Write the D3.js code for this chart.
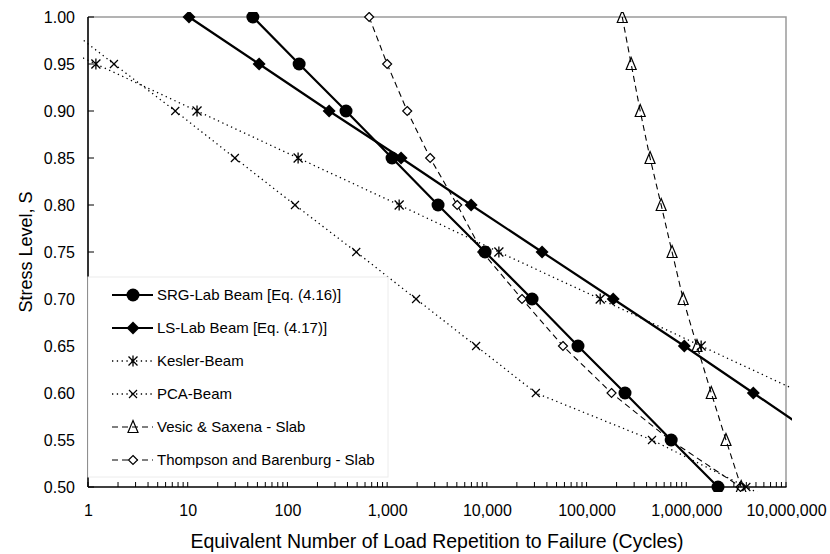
<!DOCTYPE html>
<html>
<head>
<meta charset="utf-8">
<script src="https://cdn.jsdelivr.net/npm/d3@7"></script>
<style>
  html, body { margin: 0; padding: 0; background: #fff; }
  svg { display: block; font-family: "Liberation Sans", Arial, sans-serif; }
</style>
</head>
<body>
<svg id="chart" width="830" height="554"></svg>
<script>
// ---------- Data ----------
const stressLevels = [1.00, 0.95, 0.90, 0.85, 0.80, 0.75, 0.70, 0.65, 0.60, 0.55, 0.50, 0.45];

const srgNames = "SRG-Lab Beam [Eq. (4.16)]";
const srgCycles = [45, 131, 387, 1120, 3240, 9600, 28400, 82000, 243000, 706000, 2080000];

const lsName = "LS-Lab Beam [Eq. (4.17)]";
const lsCycles = [10.3, 52, 262, 1380, 6950, 35800, 185000, 955000, 4700000, 23000000];

const keslerName = "Kesler-Beam";
const keslerCycles = [0.12, 1.2, 12.4, 128, 1320, 13200, 137000, 1410000, 14500000];

const pcaName = "PCA-Beam";
const pcaCycles = [0.45, 1.82, 7.5, 29.7, 119, 490, 1950, 7800, 31000, 453000, 4000000, 35000000];

const vesicName = "Vesic & Saxena - Slab";
const vesicCycles = [228000, 280000, 345000, 433000, 560000, 720000, 930000, 1280000, 1780000, 2500000, 3550000];

const thompsonName = "Thompson and Barenburg - Slab";
const thompsonCycles = [660, 1000, 1590, 2700, 5040, 9000, 22500, 58000, 178000, 690000, 3500000];

const xTickValues = [1, 10, 100, 1000, 10000, 100000, 1000000, 10000000];
const yTickValues = [0.50, 0.55, 0.60, 0.65, 0.70, 0.75, 0.80, 0.85, 0.90, 0.95, 1.00];

const xTitle = "Equivalent Number of Load Repetition to Failure (Cycles)";
const yTitle = "Stress Level, S";

// ---------- Layout ----------
const svg = d3.select("#chart");
const L = 88, R = 786, T = 17, B = 487;

const x = d3.scaleLog().domain([1, 1e7]).range([L, R]);
const y = d3.scaleLinear().domain([0.5, 1.0]).range([B, T]);

// marker drawers
function drawMarker(g, type, cx, cy) {
  if (type === "circle") {
    g.append("circle").attr("cx", cx).attr("cy", cy).attr("r", 6.5).attr("fill", "#000");
  } else if (type === "diamond") {
    const s = 6.5;
    g.append("path").attr("d", `M${cx},${cy - s}L${cx + s},${cy}L${cx},${cy + s}L${cx - s},${cy}Z`).attr("fill", "#000");
  } else if (type === "asterisk") {
    const s = 4.5;
    g.append("path").attr("d", `M${cx - s},${cy - s}L${cx + s},${cy + s}M${cx - s},${cy + s}L${cx + s},${cy - s}M${cx},${cy - s - 1}L${cx},${cy + s + 1}`)
      .attr("stroke", "#000").attr("stroke-width", 1.3).attr("fill", "none");
  } else if (type === "xmark") {
    const s = 4;
    g.append("path").attr("d", `M${cx - s},${cy - s}L${cx + s},${cy + s}M${cx - s},${cy + s}L${cx + s},${cy - s}`)
      .attr("stroke", "#000").attr("stroke-width", 1.2).attr("fill", "none");
  } else if (type === "triangle") {
    const h = 11, w = 10;
    g.append("path").attr("d", `M${cx},${cy - h / 2 - 1}L${cx + w / 2},${cy + h / 2}L${cx - w / 2},${cy + h / 2}Z`)
      .attr("stroke", "#000").attr("stroke-width", 1.2).attr("fill", "none");
  } else if (type === "odiamond") {
    const s = 4.5;
    g.append("path").attr("d", `M${cx},${cy - s}L${cx + s},${cy}L${cx},${cy + s}L${cx - s},${cy}Z`)
      .attr("stroke", "#000").attr("stroke-width", 1.2).attr("fill", "#fff");
  }
}

const series = [
  { name: thompsonName, cycles: thompsonCycles, marker: "odiamond", width: 1.1, dash: "6,4" },
  { name: vesicName, cycles: vesicCycles, marker: "triangle", width: 1.1, dash: "6,4" },
  { name: pcaName, cycles: pcaCycles, marker: "xmark", width: 1.3, dash: "1.3,3.5" },
  { name: keslerName, cycles: keslerCycles, marker: "asterisk", width: 1.3, dash: "1.3,3.5" },
  { name: lsName, cycles: lsCycles, marker: "diamond", width: 2.2, dash: null },
  { name: srgNames, cycles: srgCycles, marker: "circle", width: 2.2, dash: null }
];

// ---------- Frame ----------
svg.append("defs").append("clipPath").attr("id", "clip")
  .append("rect").attr("x", L - 5).attr("y", T - 5).attr("width", R - L + 11).attr("height", B - T + 10);

svg.append("path").attr("d", `M${L},${T}H${R}V${B}`).attr("stroke", "#9a9a9a").attr("stroke-width", 1.5).attr("fill", "none");

// ---------- Data lines ----------
const plot = svg.append("g").attr("clip-path", "url(#clip)");
const line = d3.line().x(d => x(d[0])).y(d => y(d[1]));

series.forEach(s => {
  const pts = s.cycles.map((c, i) => [c, stressLevels[i]]);
  const p = plot.append("path").attr("d", line(pts))
    .attr("fill", "none").attr("stroke", "#000").attr("stroke-width", s.width);
  if (s.dash) p.attr("stroke-dasharray", s.dash);
  const mg = plot.append("g");
  pts.forEach(d => {
    const cx = x(d[0]), cy = y(d[1]);
    if (cx >= L - 1 && cx <= R + 1 && cy <= B + 1) drawMarker(mg, s.marker, cx, cy);
  });
});

// ---------- Axes ----------
const xAxis = d3.axisBottom(x).tickValues(xTickValues).tickSize(0)
  .tickFormat(d3.format(","));
const xg = svg.append("g").attr("transform", `translate(0,${B})`).call(xAxis);
xg.select(".domain").remove();
xg.selectAll("text").attr("font-size", 16).attr("fill", "#000").attr("y", 18).attr("dy", "0.71em")
  .attr("font-family", "Liberation Sans, Arial, sans-serif");

const minorTicks = [];
for (let e = 0; e < 7; e++) for (let k = 1; k <= 9; k++) minorTicks.push(k * Math.pow(10, e));
minorTicks.push(1e7);
svg.append("g").selectAll("line").data(minorTicks).join("line")
  .attr("x1", d => x(d)).attr("x2", d => x(d)).attr("y1", B).attr("y2", B - 5)
  .attr("stroke", "#000").attr("stroke-width", 1);

svg.append("line").attr("x1", L).attr("x2", R + 0.5).attr("y1", B).attr("y2", B)
  .attr("stroke", "#000").attr("stroke-width", 1.6);

const yAxis = d3.axisLeft(y).tickValues(yTickValues).tickSize(0).tickFormat(d3.format(".2f"));
const yg = svg.append("g").attr("transform", `translate(${L},0)`).call(yAxis);
yg.select(".domain").remove();
yg.selectAll("text").attr("font-size", 16).attr("fill", "#000").attr("x", -13)
  .attr("font-family", "Liberation Sans, Arial, sans-serif");
svg.append("g").selectAll("line").data(yTickValues).join("line")
  .attr("x1", L).attr("x2", L + 6).attr("y1", d => y(d)).attr("y2", d => y(d))
  .attr("stroke", "#000").attr("stroke-width", 1);
svg.append("line").attr("x1", L).attr("x2", L).attr("y1", T).attr("y2", B)
  .attr("stroke", "#000").attr("stroke-width", 1.6);

// ---------- Legend ----------
const legendEntries = [srgNames, lsName, keslerName, pcaName, vesicName, thompsonName];
const legY = d3.scalePoint().domain(legendEntries).range([295, 460]);
const lg = svg.append("g");
lg.append("rect").attr("x", L).attr("y", 277).attr("width", 300).attr("height", 200)
  .attr("fill", "#fff").attr("stroke", "#ececec").attr("stroke-width", 1);
legendEntries.forEach(name => {
  const s = series.find(d => d.name === name);
  const cy = legY(name);
  const l = lg.append("line").attr("x1", 112).attr("x2", 153).attr("y1", cy).attr("y2", cy)
    .attr("stroke", "#000").attr("stroke-width", s.width);
  if (s.dash) l.attr("stroke-dasharray", s.dash);
  drawMarker(lg, s.marker, 133, cy);
  lg.append("text").attr("x", 157).attr("y", cy).attr("dy", "0.36em")
    .attr("font-size", 15).attr("fill", "#000").text(name);
});

// ---------- Titles ----------
svg.append("text").attr("x", (L + R) / 2).attr("y", 548).attr("text-anchor", "middle")
  .attr("font-size", 19.5).attr("fill", "#000").text(xTitle);
svg.append("text").attr("transform", `translate(32,${(T + B) / 2}) rotate(-90)`)
  .attr("text-anchor", "middle").attr("font-size", 18).attr("fill", "#000").text(yTitle);
</script>
</body>
</html>
